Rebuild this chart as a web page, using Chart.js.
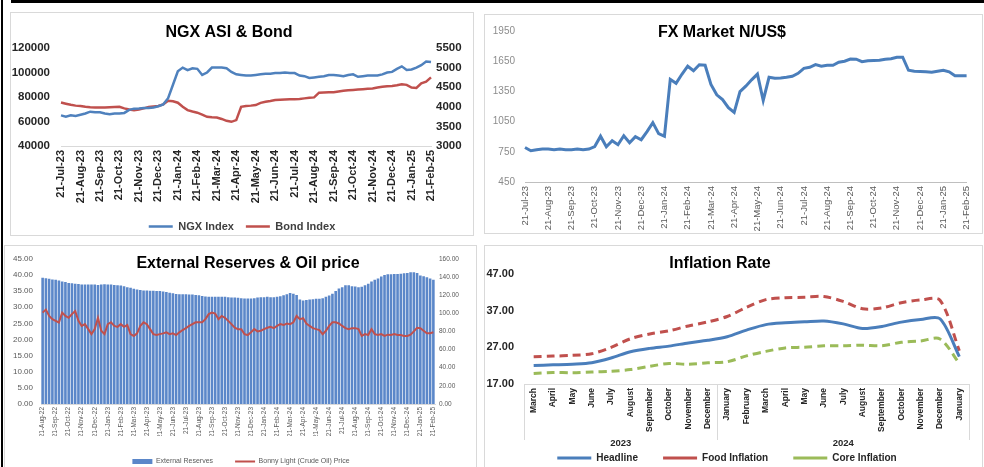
<!DOCTYPE html>
<html>
<head>
<meta charset="utf-8">
<title>Market dashboard</title>
<script src="https://cdn.jsdelivr.net/npm/chart.js@4.4.1/dist/chart.umd.min.js"></script>
<style>
  html, body { margin: 0; padding: 0; background: #fff; overflow: hidden; }
  body { width: 984px; height: 467px; position: relative; }
  .panel { position: absolute; border: 1px solid #d9d9d9; box-sizing: content-box; }
  canvas { position: absolute; }
  .bar { position: absolute; background: #000; }
</style>
</head>
<body>
<div class="bar" style="left:11px;top:0;width:973px;height:3px"></div>
<div class="bar" style="left:1px;top:0;width:2px;height:467px"></div>

<div class="panel" style="left:10px;top:12px;width:462px;height:222px"></div>
<div class="panel" style="left:484px;top:14px;width:497px;height:218px"></div>
<div class="panel" style="left:4px;top:245px;width:471px;height:230px"></div>
<div class="panel" style="left:484px;top:245px;width:497px;height:230px"></div>

<canvas id="ngx" width="462" height="229" style="left:11px;top:13px"></canvas>
<canvas id="fx" width="497" height="218" style="left:485px;top:15px"></canvas>
<canvas id="reserves" width="470" height="229" style="left:6px;top:246px"></canvas>
<canvas id="inflation" width="497" height="227" style="left:485px;top:246px"></canvas>

<script>
// ---- data ----
// NGX & FX: one value per ~week, 4 per month starting on the 21st
const ngxMonths = ['21-Jul-23','21-Aug-23','21-Sep-23','21-Oct-23','21-Nov-23','21-Dec-23','21-Jan-24','21-Feb-24','21-Mar-24','21-Apr-24',
  '21-May-24','21-Jun-24','21-Jul-24','21-Aug-24','21-Sep-24','21-Oct-24','21-Nov-24','21-Dec-24','21-Jan-25','21-Feb-25'];

const ngxIndex = [
  65000,64000,65000,64500, 65500,66500,68000,67500, 67500,66500,66000,66500, 66500,67000,69500,70500,
  70700,71000,71000,71500, 72500,74000,79000,90000, 101000,104000,102000,103500, 103000,98000,100000,104000,
  104000,104000,103500,100500, 98500,98000,97500,97500, 98000,98500,99000,99000, 99500,99500,100000,99500,
  99500,97500,97000,95500, 96000,96500,97000,98000, 98000,97500,97000,98000, 98500,96500,97000,97500,
  97500,97500,98500,100000, 100500,103000,105000,102000, 102500,104000,106000,109000, 108500];

const bondIndex = [
  4110,4080,4050,4030, 4020,4000,3990,3985, 3985,3985,3990,3995, 4000,3960,3930,3915,
  3930,3960,3995,4010, 4020,4060,4156,4140, 4105,4000,3916,3880, 3850,3800,3745,3735,
  3728,3690,3642,3617, 3660,4000,4020,4030, 4045,4100,4130,4150, 4173,4180,4185,4190,
  4190,4200,4215,4230, 4240,4360,4365,4370, 4370,4390,4410,4420, 4430,4440,4450,4460,
  4465,4490,4510,4525, 4533,4550,4575,4560, 4490,4480,4600,4640, 4750];

const fxRate = [
  793,761,771,777, 777,771,777,771, 771,777,771,777, 802,905,800,860,
  820,910,840,900, 870,950,1040,930, 905,1470,1430,1520, 1600,1555,1615,1610,
  1420,1316,1268,1189, 1142,1348,1402,1465, 1522,1260,1490,1480, 1484,1490,1500,1530,
  1579,1590,1617,1600, 1610,1610,1640,1650, 1671,1670,1645,1655, 1658,1660,1670,1675,
  1690,1690,1560,1550, 1547,1545,1540,1550, 1560,1545,1506,1505, 1506];

// Reserves (US$ bn) & Bonny Light (US$/bbl): 4 per month from 21-Aug-22
const resMonths = ['21-Aug-22','21-Sep-22','21-Oct-22','21-Nov-22','21-Dec-22','21-Jan-23','21-Feb-23','21-Mar-23','21-Apr-23','21-May-23',
  '21-Jun-23','21-Jul-23','21-Aug-23','21-Sep-23','21-Oct-23','21-Nov-23','21-Dec-23','21-Jan-24','21-Feb-24','21-Mar-24',
  '21-Apr-24','21-May-24','21-Jun-24','21-Jul-24','21-Aug-24','21-Sep-24','21-Oct-24','21-Nov-24','21-Dec-24','21-Jan-25','21-Feb-25'];

const reserves = [
  39.1,39.0,38.8,38.6, 38.5,38.3,38.0,37.8, 37.5,37.4,37.3,37.2, 37.0,37.0,37.0,37.0,
  37.0,36.9,37.0,37.1, 37.0,37.0,36.9,36.8, 36.7,36.5,36.2,36.0, 35.7,35.5,35.3,35.2,
  35.2,35.1,35.1,35.0, 35.0,34.9,34.7,34.5, 34.3,34.1,34.0,34.0, 34.0,33.9,33.9,33.8,
  33.7,33.5,33.3,33.2, 33.2,33.2,33.2,33.2, 33.2,33.1,33.0,33.0, 32.9,32.8,32.7,32.7,
  32.7,32.8,33.0,33.1, 33.1,33.2,33.1,33.1, 33.2,33.4,33.7,34.0, 34.4,34.2,33.8,32.4,
  32.1,32.2,32.4,32.5, 32.6,32.6,32.8,33.2, 33.6,34.2,35.0,35.8, 36.2,36.8,36.8,36.5,
  36.4,36.2,36.3,36.8, 37.3,38.0,38.5,38.9, 39.5,40.0,40.2,40.2, 40.3,40.3,40.4,40.5,
  40.6,40.8,40.8,40.6, 39.8,39.6,39.3,38.9, 38.5];

const oilPrice = [
  100.7,104,97,93.5, 91.6,89.8,100.7,97, 95,99,102.5,91.6, 86,88,82.5,77,
  82.5,95,80.7,77, 88,90,86,85, 88,85,87,77, 75,77.8,86,90,
  88,82.5,77,76, 77,77.8,79,77, 77.8,76,79,81.5, 83.6,86,88,90,
  90,90,93.5,99, 100.7,99.6,93.5,97, 95,91.6,88,84, 82.5,82.5,77,76,
  79,82.5,80,80.7, 82.5,84,85,83.6, 86,88,87,88.7, 88,90,97,93.5,
  94.5,88.7,86,83.6, 82.5,81.5,77,80.7, 86,90,90,88.7, 86,83.6,82.5,83.6,
  83.6,82.5,75,77, 76,82.5,77,76, 77,75,76.4,76, 77,76,76,75,
  75,76.4,80,84, 83.6,80.7,78,78, 79];

// Inflation (%), monthly
const inflMonths = ['March','April','May','June','July','August','September','October','November','December',
  'January','February','March','April','May','June','July','August','September','October','November','December','January'];
const yearGroups = ['2023','2024'];
const yearSpans = [10, 13];
const headline = [22.04,22.22,22.41,22.79,24.08,25.80,26.72,27.33,28.20,28.92,29.90,31.70,33.20,33.69,33.95,34.19,33.40,32.15,32.70,33.88,34.60,34.80,24.48];
const foodInfl = [24.45,24.61,24.82,25.25,26.98,29.34,30.64,31.52,32.84,33.93,35.41,37.92,40.01,40.53,40.66,40.87,39.53,37.52,37.77,39.16,39.93,39.84,26.08];
const coreInfl = [19.86,20.14,20.06,20.27,20.47,20.94,21.84,22.59,22.38,22.79,23.06,24.66,25.90,26.84,27.04,27.40,27.43,27.58,27.43,28.37,28.75,29.28,22.59];

// ---- helpers ----
const FONT = '"Liberation Sans", Arial, sans-serif';
Chart.defaults.font.family = FONT;
Chart.defaults.animation = false;
Chart.defaults.responsive = false;
Chart.defaults.devicePixelRatio = 1;
Chart.defaults.plugins.tooltip.enabled = false;

// month label on every 4th point, blanks in between
function spread(months, per) {
  const out = [];
  months.forEach((m, i) => {
    out.push(m);
    if (i < months.length - 1) for (let k = 1; k < per; k++) out.push('');
  });
  return out;
}

// title drawn over the plot, like the spreadsheet charts
const panelTitle = {
  id: 'panelTitle',
  afterDraw(chart, args, opts) {
    const ctx = chart.ctx;
    ctx.save();
    ctx.font = 'bold 16px ' + FONT;
    ctx.fillStyle = '#000';
    ctx.textAlign = 'center';
    ctx.textBaseline = 'middle';
    ctx.fillText(opts.text, opts.x, opts.y);
    ctx.restore();
  }
};

const noGrid = { display: false, drawTicks: false };
const plain = v => String(v);

// ---- NGX ASI & Bond ----
new Chart(document.getElementById('ngx'), {
  type: 'line',
  plugins: [panelTitle],
  data: {
    labels: spread(ngxMonths, 4),
    datasets: [
      { label: 'NGX Index', data: ngxIndex, borderColor: '#4f81bd', borderWidth: 2.5, pointRadius: 0, yAxisID: 'y' },
      { label: 'Bond Index', data: bondIndex, borderColor: '#c0504d', borderWidth: 2.5, pointRadius: 0, yAxisID: 'y1' }
    ]
  },
  options: {
    layout: { padding: { top: 35, left: 0, right: 0, bottom: 0 } },
    plugins: {
      panelTitle: { text: 'NGX ASI & Bond', x: 218, y: 20 },
      legend: {
        position: 'bottom',
        labels: { usePointStyle: true, pointStyle: 'line', pointStyleWidth: 24, padding: 12, color: '#404040', font: { size: 11, weight: 'bold' } }
      }
    },
    scales: {
      x: {
        grid: noGrid, border: { color: '#d9d9d9' },
        ticks: { autoSkip: false, maxRotation: 90, minRotation: 90, padding: 4, color: '#262626', font: { size: 11, weight: 'bold' } },
        afterFit(s) { s.height = 63; }
      },
      y: {
        position: 'left', min: 40000, max: 120000,
        grid: noGrid, border: { display: false },
        ticks: { stepSize: 20000, padding: 11, color: '#262626', font: { size: 11.5, weight: 'bold' }, callback: plain },
        afterFit(s) { s.width = 50; }
      },
      y1: {
        position: 'right', min: 3000, max: 5500,
        grid: noGrid, border: { display: false },
        ticks: { stepSize: 500, padding: 5, color: '#262626', font: { size: 11.5, weight: 'bold' }, callback: plain },
        afterFit(s) { s.width = 42; }
      }
    }
  }
});

// ---- FX Market ----
new Chart(document.getElementById('fx'), {
  type: 'line',
  plugins: [panelTitle],
  data: {
    labels: spread(ngxMonths, 4),
    datasets: [
      { label: 'N/US$', data: fxRate, borderColor: '#4a7ebb', borderWidth: 3, pointRadius: 0 }
    ]
  },
  options: {
    layout: { padding: { top: 10, left: 0, right: 11, bottom: 0 } },
    plugins: {
      panelTitle: { text: 'FX Market N/US$', x: 237, y: 18 },
      legend: { display: false }
    },
    scales: {
      x: {
        grid: noGrid, border: { color: '#bfbfbf' },
        ticks: { autoSkip: false, maxRotation: 90, minRotation: 90, padding: 4, color: '#595959', font: { size: 9.5 } },
        afterFit(s) { s.height = 51; }
      },
      y: {
        min: 450, max: 1950,
        grid: noGrid, border: { display: false },
        ticks: { stepSize: 300, padding: 10, color: '#8c8c8c', font: { size: 10 }, callback: plain },
        afterFit(s) { s.width = 40; }
      }
    }
  }
});

// ---- External Reserves & Oil price ----
new Chart(document.getElementById('reserves'), {
  type: 'bar',
  plugins: [panelTitle],
  data: {
    labels: spread(resMonths, 4),
    datasets: [
      { type: 'bar', label: 'External Reserves', data: reserves, backgroundColor: '#5b87c9', yAxisID: 'y',
        categoryPercentage: 0.8, barPercentage: 1, pointStyle: 'rect', order: 1 },
      { type: 'line', label: 'Bonny Light (Crude Oil) Price', data: oilPrice, borderColor: '#c0504d', backgroundColor: '#c0504d',
        borderWidth: 2, pointRadius: 0, yAxisID: 'y1', pointStyle: 'line', order: 0 }
    ]
  },
  options: {
    layout: { padding: { top: 11, left: 0, right: 0, bottom: 0 } },
    plugins: {
      panelTitle: { text: 'External Reserves & Oil price', x: 242, y: 18 },
      legend: {
        position: 'bottom',
        labels: {
          usePointStyle: true, pointStyleWidth: 20, boxHeight: 5, padding: 22, color: '#595959', font: { size: 7 },
          sort: (a, b) => a.datasetIndex - b.datasetIndex
        }
      }
    },
    scales: {
      x: {
        grid: noGrid, border: { color: '#d9d9d9' },
        ticks: { autoSkip: false, maxRotation: 90, minRotation: 90, padding: 3, color: '#595959', font: { size: 6.5 } },
        afterFit(s) { s.height = 32; }
      },
      y: {
        position: 'left', min: 0, max: 45,
        grid: noGrid, border: { display: false },
        ticks: { stepSize: 5, padding: 8, color: '#595959', font: { size: 8 }, callback: v => v.toFixed(2) },
        afterFit(s) { s.width = 35; }
      },
      y1: {
        position: 'right', min: 0, max: 160,
        grid: noGrid, border: { display: false },
        ticks: { stepSize: 20, padding: 4, color: '#595959', font: { size: 6.5 }, callback: v => v.toFixed(2) },
        afterFit(s) { s.width = 41; }
      }
    }
  }
});

// ---- Inflation Rate ----
// second row of category labels (years) with divider lines, as in the spreadsheet
const yearRow = {
  id: 'yearRow',
  afterDraw(chart) {
    const xs = chart.scales.x, area = chart.chartArea, ctx = chart.ctx;
    const px = i => xs.getPixelForValue(i);
    const lineEnd = area.bottom + 56;
    ctx.save();
    ctx.strokeStyle = '#d9d9d9';
    ctx.lineWidth = 1;
    ctx.fillStyle = '#262626';
    ctx.font = 'bold 9.5px ' + FONT;
    ctx.textAlign = 'center';
    ctx.textBaseline = 'middle';
    let start = 0;
    yearGroups.forEach((yr, g) => {
      const n = yearSpans[g];
      const left = start === 0 ? xs.left : (px(start - 1) + px(start)) / 2;
      const right = start + n >= inflMonths.length ? xs.right : (px(start + n - 1) + px(start + n)) / 2;
      [left, right].forEach(x => {
        ctx.beginPath();
        ctx.moveTo(Math.round(x) + 0.5, area.bottom);
        ctx.lineTo(Math.round(x) + 0.5, lineEnd);
        ctx.stroke();
      });
      ctx.fillText(yr, (left + right) / 2, area.bottom + 59);
      start += n;
    });
    ctx.restore();
  }
};

// wider gaps between legend items without a taller legend box
function spacedLabels(chart) {
  const items = Chart.defaults.plugins.legend.labels.generateLabels(chart);
  items.forEach((it, i) => { if (i < items.length - 1) it.text += '    '; });
  return items;
}

new Chart(document.getElementById('inflation'), {
  type: 'line',
  plugins: [panelTitle, yearRow],
  data: {
    labels: inflMonths,
    datasets: [
      { label: 'Headline', data: headline, borderColor: '#4a7ebb', borderWidth: 3, pointRadius: 0, tension: 0.3 },
      { label: 'Food Inflation', data: foodInfl, borderColor: '#c0504d', borderWidth: 3, borderDash: [8, 5], pointRadius: 0, tension: 0.3 },
      { label: 'Core Inflation', data: coreInfl, borderColor: '#9bbb59', borderWidth: 3, borderDash: [8, 5], pointRadius: 0, tension: 0.3 }
    ]
  },
  options: {
    layout: { padding: { top: 28, left: 0, right: 13, bottom: 0 } },
    plugins: {
      panelTitle: { text: 'Inflation Rate', x: 235, y: 18 },
      legend: {
        position: 'bottom',
        labels: { usePointStyle: true, pointStyle: 'line', pointStyleWidth: 34, padding: 14, color: '#262626',
          font: { size: 10, weight: 'bold' }, generateLabels: spacedLabels }
      }
    },
    scales: {
      x: {
        offset: true,
        grid: noGrid, border: { color: '#d9d9d9' },
        ticks: { autoSkip: false, maxRotation: 90, minRotation: 90, padding: 4, color: '#262626', font: { size: 8.5, weight: 'bold' } },
        afterFit(s) { s.height = 55; }
      },
      y: {
        min: 17, max: 47,
        grid: noGrid, border: { display: false },
        ticks: { stepSize: 10, padding: 10, color: '#262626', font: { size: 11, weight: 'bold' }, callback: v => v.toFixed(2) },
        afterFit(s) { s.width = 39; }
      }
    }
  }
});
</script>
</body>
</html>
